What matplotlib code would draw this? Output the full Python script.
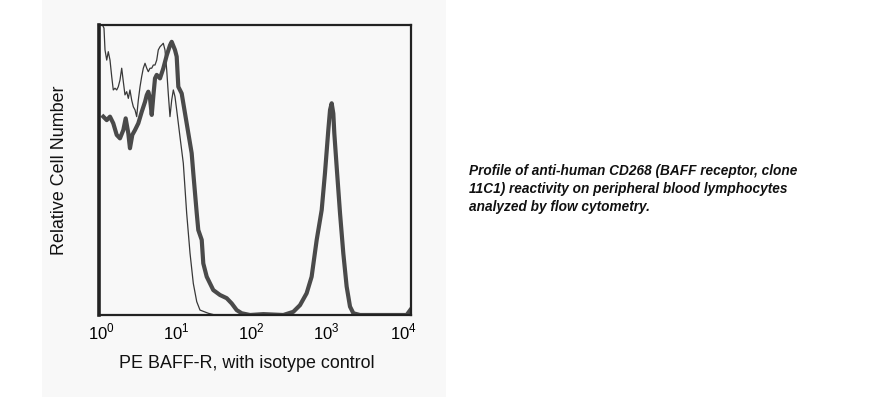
import matplotlib
matplotlib.use("Agg")
import matplotlib.pyplot as plt
import matplotlib.transforms as mtransforms
import numpy as np
from matplotlib.patches import Rectangle

plt.rcParams['font.family'] = ['Liberation Sans', 'DejaVu Sans']
plt.rcParams['mathtext.fontset'] = 'custom'
plt.rcParams['mathtext.rm'] = 'Liberation Sans'

# log10 of PE intensity, relative cell number (% of axis height)
baff_log = [0.055, 0.099, 0.141, 0.183, 0.227, 0.269, 0.312, 0.342, 0.376, 0.397,
            0.427, 0.462, 0.504, 0.547, 0.590, 0.612, 0.632, 0.654, 0.676, 0.698,
            0.718, 0.740, 0.782, 0.824, 0.868, 0.910, 0.932, 0.974, 0.996, 1.017,
            1.060, 1.124, 1.188, 1.209, 1.253, 1.273, 1.317, 1.337, 1.381, 1.465,
            1.551, 1.637, 1.701, 1.765, 1.829, 1.936, 2.107, 2.363, 2.491, 2.577,
            2.662, 2.726, 2.791, 2.855, 2.897, 2.940, 2.962, 2.983, 3.004, 3.017,
            3.047, 3.090, 3.132, 3.175, 3.218, 3.261, 3.346, 3.944, 3.99]
baff_cnt = [68.4, 67.2, 68.4, 66.1, 62.1, 60.9, 63.8, 67.8, 62.6, 57.5,
            62.1, 63.8, 66.1, 70.0, 73.5, 75.8, 77.0, 74.7, 69.0, 75.9,
            81.6, 82.8, 81.6, 85.0, 89.5, 93.0, 94.2, 91.4, 89.1, 78.7,
            76.4, 66.1, 55.8, 48.9, 35.1, 29.3, 25.9, 17.8, 13.2, 8.6,
            6.9, 5.8, 4.0, 1.7, 0.6, 0.0, 0.3, 0.0, 1.1, 3.4,
            7.5, 13.2, 25.9, 36.2, 48.9, 63.8, 70.7, 73.0, 69.5, 62.6,
            51.1, 35.1, 21.3, 9.8, 2.9, 0.6, 0.0, 0.0, 1.7]

iso_log = [0.045, 0.064, 0.077, 0.099, 0.119, 0.141, 0.163, 0.183, 0.205, 0.227,
           0.247, 0.269, 0.291, 0.312, 0.333, 0.355, 0.376, 0.397, 0.419, 0.440,
           0.462, 0.483, 0.504, 0.526, 0.547, 0.568, 0.590, 0.612, 0.632, 0.654,
           0.676, 0.696, 0.718, 0.740, 0.760, 0.782, 0.804, 0.824, 0.846, 0.868,
           0.888, 0.910, 0.932, 0.953, 0.974, 0.996, 1.038, 1.081, 1.124, 1.167,
           1.209, 1.253, 1.295, 1.401, 1.487, 3.99]
iso_cnt = [100.0, 98.9, 91.4, 87.9, 90.8, 87.9, 82.2, 77.6, 78.2, 77.6,
           78.7, 81.0, 85.1, 80.4, 75.9, 77.0, 74.7, 77.6, 74.1, 71.8,
           70.7, 68.4, 74.1, 78.7, 82.2, 85.1, 86.8, 85.1, 83.9, 85.1,
           85.1, 86.2, 86.2, 87.9, 91.4, 92.5, 93.1, 93.7, 91.4, 84.5,
           76.4, 68.4, 74.1, 77.6, 75.3, 70.7, 61.5, 52.3, 35.1, 21.3,
           10.9, 4.6, 1.7, 0.6, 0.0, 0.0]

tick_exp = [0, 1, 2, 3, 4]
caption = ("Profile of anti-human CD268 (BAFF receptor, clone\n"
           "11C1) reactivity on peripheral blood lymphocytes\n"
           "analyzed by flow cytometry.")

bg = '#f8f8f8'

fig = plt.figure(figsize=(8.94, 3.97), dpi=100)
fig.patch.set_facecolor('white')
# grey panel behind the histogram
fig.patches.append(Rectangle((42 / 894, 0), (446 - 42) / 894, 1, transform=fig.transFigure,
                             facecolor=bg, edgecolor='none', zorder=-5))

ax = fig.add_axes([99 / 894, (397 - 315) / 397, 312 / 894, 290 / 397])
ax.set_zorder(2)
ax.set_facecolor(bg)

ax.plot(10 ** np.array(iso_log), iso_cnt, color='#383838', lw=0.9)
ax.plot(10 ** np.array(baff_log), baff_cnt, color='#4a4a4a', lw=3.0,
        solid_joinstyle='round')

ax.set_xscale('log')
ax.set_xlim(1, 1e4)
ax.set_ylim(0, 100)
ax.set_xticks([10 ** e for e in tick_exp])
ax.set_xticklabels([f'$10^{{{e}}}$' for e in tick_exp])
ax.xaxis.set_minor_locator(matplotlib.ticker.NullLocator())
ax.set_yticks([])
ax.tick_params(axis='x', length=0, pad=5, labelsize=12)

# labels in the original sit a little left of the decade positions
shifts = [2, -1, -4, -7, -8]
for lbl, dx in zip(ax.get_xticklabels(), shifts):
  lbl.set_transform(lbl.get_transform() +
                    mtransforms.ScaledTranslation(dx / 100, 0, fig.dpi_scale_trans))

for s in ['top', 'right', 'bottom']:
  ax.spines[s].set_linewidth(1.6)
  ax.spines[s].set_color('#222222')
ax.spines['left'].set_linewidth(2.6)
ax.spines['left'].set_color('#222222')

ax.set_xlabel('PE BAFF-R, with isotype control', fontsize=12.9, labelpad=9, color='#111111')
ax.xaxis.label.set_x(0.474)
ax.set_ylabel('Relative Cell Number', fontsize=12.9, labelpad=22, color='#111111')

fig.text(469 / 894, 1 - 189 / 397, caption, fontsize=9.8, fontweight='bold', fontstyle='italic',
         va='center', ha='left', linespacing=1.38, color='#111111')

fig.savefig('out.png', dpi=100)
